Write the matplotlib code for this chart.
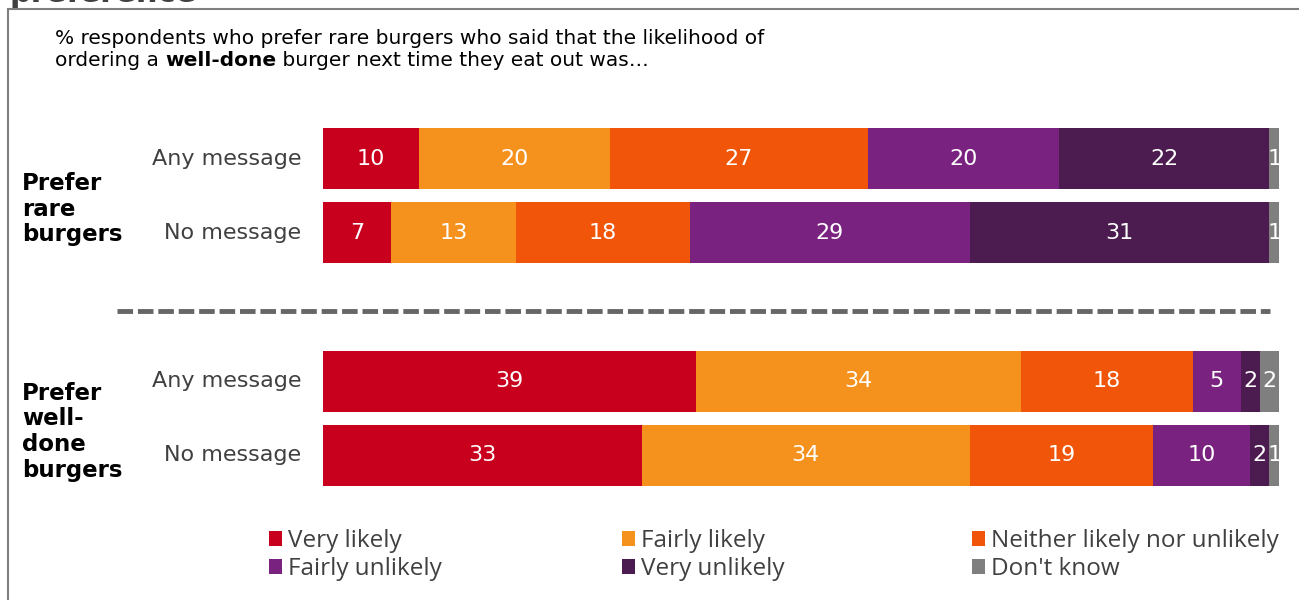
import matplotlib.pyplot as plt
from matplotlib.patches import Patch, Rectangle


categories = ['Very likely', 'Fairly likely', 'Neither likely nor unlikely',
              'Fairly unlikely', 'Very unlikely', "Don't know"]
colors = ['#C8001E', '#F5921E', '#F0550A', '#7A2280', '#4C1C50', '#7F7F7F']

row_labels = ['Any message', 'No message', 'Any message', 'No message']
row_pos = [0, 1, 3, 4]

# one list per row, values in category order
rare_any = [10, 20, 27, 20, 22, 1]
rare_none = [7, 13, 18, 29, 31, 1]
welldone_any = [39, 34, 18, 5, 2, 2]
welldone_none = [33, 34, 19, 10, 2, 1]
rows = [rare_any, rare_none, welldone_any, welldone_none]

group_labels = ['Prefer\nrare\nburgers', 'Prefer\nwell-\ndone\nburgers']
group_pos = [0.68, 3.68]

W, H = 1299, 600
fig = plt.figure(figsize=(W / 100, H / 100), dpi=100)
fig.patch.set_facecolor('white')

# outer frame, top and left edges only visible
fig.add_artist(Rectangle((8 / W, -0.1), 1.2, (H - 9) / H + 0.1, transform=fig.transFigure,
                         fill=False, edgecolor='#7F7F7F', linewidth=1.5))
fig.text(10 / W, 1 - 1.5 / H, 'preference', fontsize=22, fontweight='bold',
         color='#404040', va='baseline', ha='left')

ax = fig.add_axes([323 / W, 1 - 492.6 / H, 956 / W, 371.2 / H])
ax.set_xlim(0, 100)
ax.set_ylim(4.5, -0.5)
ax.axis('off')

for pos, vals in zip(row_pos, rows):
    total = sum(vals)
    left = 0
    for val, col in zip(vals, colors):
        w = val / total * 100
        ax.barh(pos, w, left=left, height=0.82, color=col, edgecolor='none')
        ax.text(left + w / 2, pos, str(val), ha='center', va='center',
                color='white', fontsize=16)
        left += w

for pos, lab in zip(row_pos, row_labels):
    ax.text(-2.3, pos, lab, ha='right', va='center', fontsize=16, color='#404040')

for pos, lab in zip(group_pos, group_labels):
    ax.text(-31.5, pos, lab, ha='left', va='center', fontsize=16.5,
            fontweight='bold', color='black', linespacing=1.15)

ax.plot([-21.5, 99.1], [2.05, 2.05], color='#666666', linewidth=3.5,
        dashes=(3.2, 1.0), clip_on=False, solid_capstyle='butt',
        dash_capstyle='butt')

# subtitle with a bold fragment on the second line
fig.text(55 / W, 1 - 38 / H,
         '% respondents who prefer rare burgers who said that the likelihood of',
         fontsize=14.5, color='black', va='center')
renderer = fig.canvas.get_renderer()
x0 = 55 / W
y2 = 1 - 60 / H
parts = [('ordering a ', 'normal'), ('well-done', 'bold'),
         (' burger next time they eat out was…', 'normal')]
for txt, weight in parts:
    t = fig.text(x0, y2, txt, fontsize=14.5, fontweight=weight,
                 color='black', va='center')
    x0 += t.get_window_extent(renderer).width / W

# legend laid out as three columns of two entries
col_x = [269 / W, 622 / W, 972 / W]
for c in range(3):
    idx = [c, c + 3]
    handles = [Patch(facecolor=colors[i], edgecolor='none') for i in idx]
    fig.legend(handles, [categories[i] for i in idx], loc='upper left',
               bbox_to_anchor=(col_x[c], 1 - 529 / H), frameon=False,
               prop={'family': 'Open Sans', 'size': 17.5},
               labelcolor='#404040', handlelength=0.55, handleheight=0.55,
               handletextpad=0.25, labelspacing=0.18, borderpad=0,
               borderaxespad=0)

fig.savefig('out.png', dpi=100)
